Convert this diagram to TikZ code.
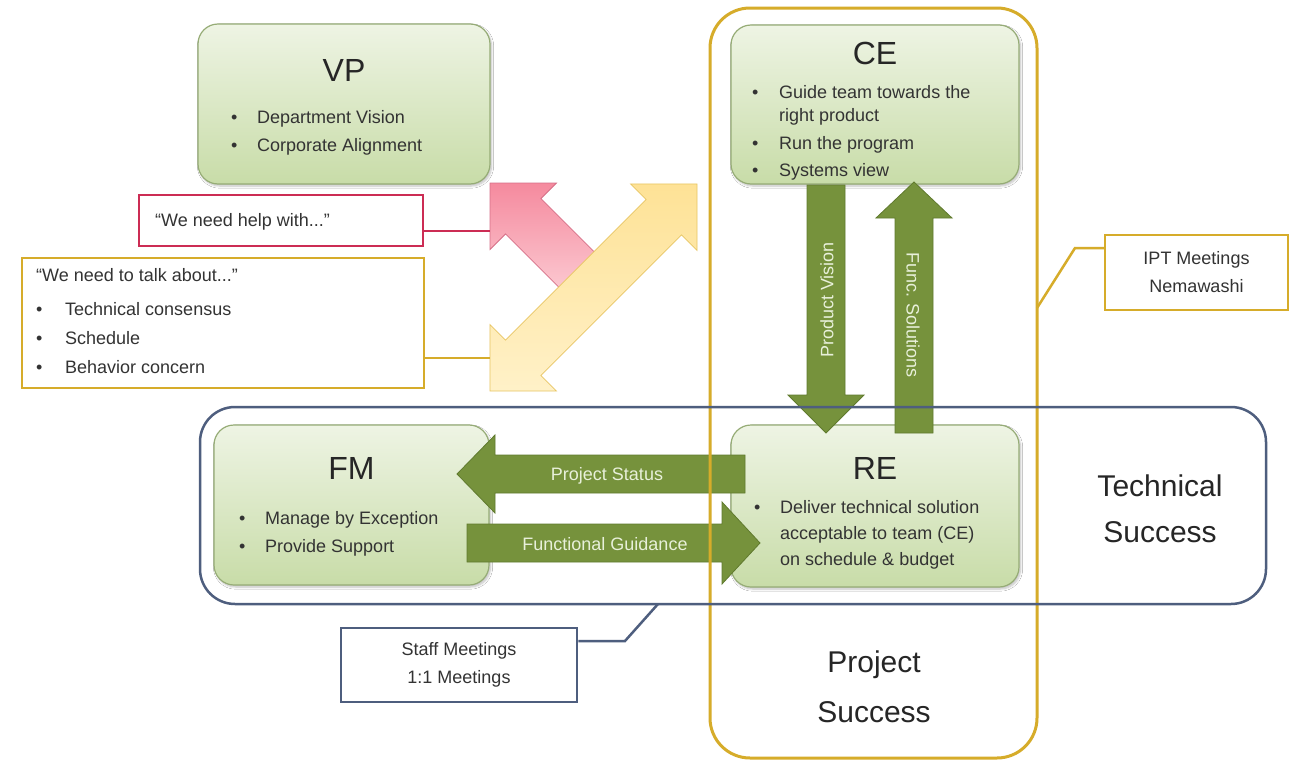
\documentclass[tikz,border=0pt]{standalone}
\usepackage{fontspec}
\setmainfont{Liberation Sans}
\usetikzlibrary{calc,shadows.blur}

\definecolor{gold}{RGB}{214,172,42}
\definecolor{navy}{RGB}{78,94,126}
\definecolor{crimson}{RGB}{204,44,84}
\definecolor{olive}{RGB}{118,146,60}
\definecolor{olivedark}{RGB}{96,122,46}
\definecolor{olivetext}{RGB}{232,240,218}
\definecolor{boxtop}{RGB}{238,244,228}
\definecolor{boxbot}{RGB}{200,220,168}
\definecolor{boxline}{RGB}{150,172,118}
\definecolor{ink}{RGB}{38,38,38}
\definecolor{bodyink}{RGB}{51,51,51}
\definecolor{pinkA}{RGB}{245,138,158}
\definecolor{pinkB}{RGB}{252,204,212}
\definecolor{pinkline}{RGB}{214,112,136}
\definecolor{creamA}{RGB}{254,226,150}
\definecolor{creamB}{RGB}{255,241,200}
\definecolor{creamline}{RGB}{232,198,100}

% block arrow: style, tail, direction, length, half shaft, half head, head length
\newcommand\blockarrow[7]{%
  \path[#1, shift={(#2)}, rotate=#3]
    (0,-#5) -- ({#4-#7},-#5) -- ({#4-#7},-#6) -- (#4,0)
    -- ({#4-#7},#6) -- ({#4-#7},#5) -- (0,#5) -- cycle;}
% two-headed block arrow: style, centre, direction, half length, half shaft, half head, head length
\newcommand\twowayarrow[7]{%
  \path[#1, shift={(#2)}, rotate=#3]
    (-#4,0) -- ({-#4+#7},-#6) -- ({-#4+#7},-#5) -- ({#4-#7},-#5)
    -- ({#4-#7},-#6) -- (#4,0) -- ({#4-#7},#6) -- ({#4-#7},#5)
    -- ({-#4+#7},#5) -- ({-#4+#7},#6) -- cycle;}

\begin{document}
\begin{tikzpicture}[x=1pt,y=-1pt,
  rolebox/.style={draw=boxline, line width=1.2pt, rounded corners=20pt,
    top color=boxtop, bottom color=boxbot, inner sep=0pt,
    blur shadow={shadow xshift=1.5pt, shadow yshift=-2pt,
      shadow opacity=25, shadow blur steps=6}},
  roletitle/.style={font=\fontsize{32}{38}\selectfont, text=ink,
    inner sep=0pt, anchor=base},
  rolebody/.style={font=\fontsize{18}{28}\selectfont, text=bodyink,
    inner sep=0pt, anchor=base west},
  flowarrow/.style={fill=olive, draw=olivedark, line width=0.8pt},
  flowlabel/.style={font=\fontsize{18}{22}\selectfont, text=olivetext,
    inner sep=0pt},
  askarrow/.style={top color=pinkA, bottom color=pinkB, draw=pinkline,
    line width=0.8pt},
  talkarrow/.style={top color=creamA, bottom color=creamB, draw=creamline,
    line width=0.8pt},
  note/.style={inner sep=0pt, font=\fontsize{18}{28}\selectfont,
    text=bodyink, align=center},
  bigtext/.style={inner sep=0pt, font=\fontsize{30}{46}\selectfont,
    text=ink, align=center}]

\useasboundingbox[fill=white] (0,0) rectangle (1294,763);

% role boxes
\node[rolebox, minimum width=292pt, minimum height=160pt] (vp) at (344,104) {};
\node[rolebox, minimum width=288pt, minimum height=159pt] (ce) at (875,104.5) {};
\node[rolebox, minimum width=275pt, minimum height=160pt] (fm) at (351.5,505) {};
\node[rolebox, minimum width=288pt, minimum height=162pt] (re) at (875,506) {};

% escalation arrows between the managers
\coordinate (askTail) at (585.5,278.5);
\coordinate (talkMid) at (593.5,287.5);
\blockarrow{askarrow}{askTail}{135}{135}{25}{47}{47}
\twowayarrow{talkarrow}{talkMid}{45}{146.4}{25}{47}{47}

% information flows
\coordinate (statusTail) at (745,474);
\coordinate (guideTail) at (467,543);
\coordinate (visionTail) at (826,185);
\coordinate (solutionTail) at (914,433);
\blockarrow{flowarrow}{statusTail}{180}{288}{19}{39}{38}
\blockarrow{flowarrow}{guideTail}{0}{293}{19}{41}{38}
\blockarrow{flowarrow}{visionTail}{-90}{248}{19}{38}{38}
\blockarrow{flowarrow}{solutionTail}{90}{251}{19}{38}{36}

\node[flowlabel] (statusLbl) at (607,476) {Project Status};
\node[flowlabel] (guideLbl) at (605,544) {Functional Guidance};
\node[flowlabel, rotate=90] (visionLbl) at (827,300) {Product Vision};
\node[flowlabel, rotate=-90] (solutionLbl) at (913,315) {Func. Solutions};

% success frames
\node[draw=gold, line width=3pt, rounded corners=40pt, minimum width=327pt,
  minimum height=750pt, inner sep=0pt] (projectFrame) at (873.5,383) {};
\node[draw=navy, line width=2.5pt, rounded corners=35pt, minimum width=1066pt,
  minimum height=197pt, inner sep=0pt] (techFrame) at (733,505.5) {};

% callouts
\node[draw=crimson, line width=2.5pt, minimum width=284pt, minimum height=51pt,
  inner sep=0pt] (askBox) at (281,220.5) {};
\node[draw=gold, line width=2.5pt, minimum width=402pt, minimum height=130pt,
  inner sep=0pt] (talkBox) at (223,323) {};
\node[note, draw=gold, line width=2.5pt, minimum width=183pt,
  minimum height=75pt] (ipt) at (1196.5,272.5) {IPT Meetings\\Nemawashi};
\node[note, draw=navy, line width=2.5pt, minimum width=236pt,
  minimum height=74pt] (staff) at (459,665) {Staff Meetings\\1:1 Meetings};

\coordinate (askEnd) at (490,231);
\coordinate (talkEnd) at (490,358);
\coordinate (iptBend) at (1075,248);
\coordinate (iptEnd) at (1037,308);
\coordinate (staffBend) at (625,641);
\coordinate (staffEnd) at (658,604);
\draw[crimson, line width=2.5pt] (askBox.east |- askEnd) -- (askEnd);
\draw[gold, line width=2.5pt] (talkBox.east |- talkEnd) -- (talkEnd);
\draw[gold, line width=2.5pt] (ipt.west |- iptBend) -- (iptBend) -- (iptEnd);
\draw[navy, line width=2.5pt] (staff.east |- staffBend) -- (staffBend) -- (staffEnd);

\node[rolebody] (askText) at (155,226) {“We need help with...”};
\node[rolebody, font=\fontsize{18}{29}\selectfont] (talkText) at (36,281) {%
  \begin{tabular}[t]{@{}p{29pt}@{}l@{}}
    \multicolumn{2}{@{}l@{}}{“We need to talk about...”}\\[5pt]
    \textbullet & Technical consensus\\
    \textbullet & Schedule\\
    \textbullet & Behavior concern
  \end{tabular}};

% role titles and duties
\node[roletitle] (vpTitle) at (344,81.5) {VP};
\node[roletitle] (ceTitle) at (875,64.5) {CE};
\node[roletitle] (fmTitle) at (351.5,479.5) {FM};
\node[roletitle] (reTitle) at (875,479.5) {RE};

\node[rolebody] (vpDuty) at (231,123) {%
  \begin{tabular}[t]{@{}p{26pt}@{}l@{}}
    \textbullet & Department Vision\\
    \textbullet & Corporate Alignment
  \end{tabular}};
\node[rolebody, font=\fontsize{18}{23}\selectfont] (ceDuty) at (752,98) {%
  \begin{tabular}[t]{@{}p{27pt}@{}l@{}}
    \textbullet & Guide team towards the\\
                & right product\\[5pt]
    \textbullet & Run the program\\[4pt]
    \textbullet & Systems view
  \end{tabular}};
\node[rolebody] (fmDuty) at (239,524) {%
  \begin{tabular}[t]{@{}p{26pt}@{}l@{}}
    \textbullet & Manage by Exception\\
    \textbullet & Provide Support
  \end{tabular}};
\node[rolebody, font=\fontsize{18}{26}\selectfont] (reDuty) at (754,513) {%
  \begin{tabular}[t]{@{}p{26pt}@{}l@{}}
    \textbullet & Deliver technical solution\\
                & acceptable to team (CE)\\
                & on schedule \& budget
  \end{tabular}};

% success labels
\node[bigtext] (techText) at (1160,509) {Technical\\Success};
\node[bigtext, font=\fontsize{30}{50}\selectfont] (projectText) at (874,687) {Project\\Success};
\end{tikzpicture}
\end{document}
